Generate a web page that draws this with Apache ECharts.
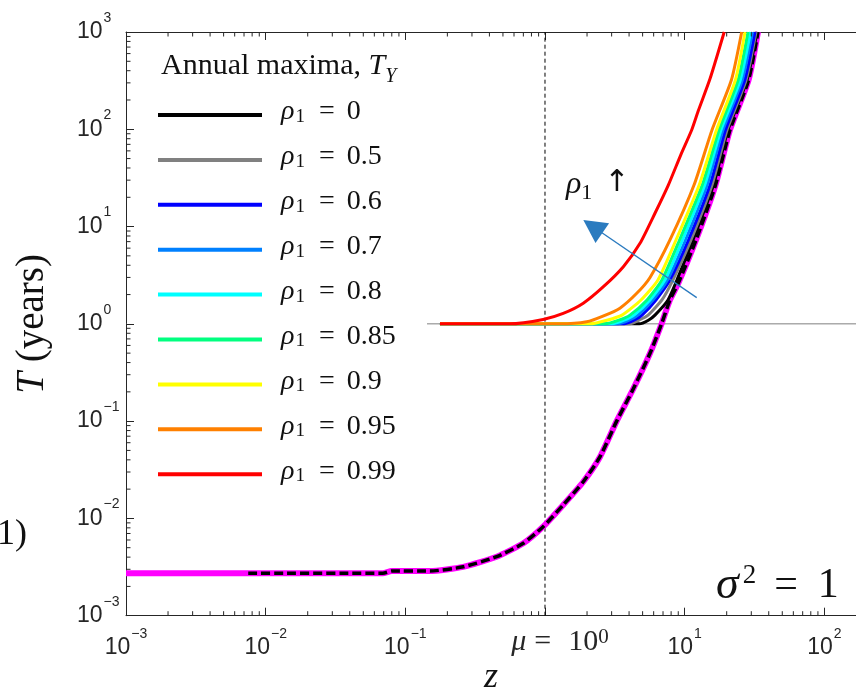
<!DOCTYPE html>
<html>
<head>
<meta charset="utf-8">
<title>T vs z</title>
<script src="https://cdn.jsdelivr.net/npm/echarts@6/dist/echarts.min.js"></script>
<style>
  html, body { margin: 0; padding: 0; background: #fff; }
  #chart { width: 856px; height: 690px; }
</style>
</head>
<body>
<div id="chart"></div>
<script>
// axis ranges
var xMin = 0.001, xMax = 168.6;
var yMin = 0.001, yMax = 1000;
var muValue = 1;        // dashed vertical line, z = mu
var refStart = 0.143;   // thin T = 1 line starts here

var rhoNames  = ['0', '0.5', '0.6', '0.7', '0.8', '0.85', '0.9', '0.95', '0.99'];
var rhoColors = ['#000000', '#808080', '#0000ff', '#0080ff', '#00ffff', '#00ff80', '#ffff00', '#ff8000', '#ff0000'];

// annual maxima curves, [z, T]
var rho000 = [[0.177,1],[4.75,1],[5.5,1.09],[6.13,1.23],[7.6,1.76],[8.81,2.83],[11.47,7.28],[16.09,26.7],[20.43,98.4],[28.0,321],[32.96,1000]];
var rho050 = [[0.177,1],[4.06,1],[4.7,1.09],[5.47,1.23],[6.88,1.76],[8.25,2.83],[11.1,7.28],[15.7,26.7],[20.1,98.4],[27.54,321],[32.43,1000]];
var rho060 = [[0.177,1],[3.68,1],[4.34,1.09],[4.95,1.23],[6.23,1.76],[7.85,2.83],[10.65,7.28],[15.19,26.7],[19.61,98.4],[26.96,321],[31.89,1000]];
var rho070 = [[0.177,1],[3.33,1],[4.0,1.09],[4.63,1.23],[5.93,1.76],[7.54,2.83],[10.14,7.28],[14.5,26.7],[18.81,98.4],[25.87,321],[30.61,1000]];
var rho080 = [[0.177,1],[3.02,1],[3.68,1.09],[4.34,1.23],[5.65,1.76],[7.23,2.83],[9.65,7.28],[13.92,26.7],[18.2,98.4],[25.03,321],[29.61,1000]];
var rho085 = [[0.177,1],[2.69,1],[3.38,1.09],[4.06,1.23],[5.38,1.76],[6.88,2.83],[9.19,7.28],[13.36,26.7],[17.62,98.4],[24.14,321],[28.42,1000]];
var rho090 = [[0.177,1],[2.1,1],[2.78,1.09],[3.56,1.23],[4.87,1.76],[6.44,2.83],[8.67,7.28],[12.71,26.7],[16.9,98.4],[23.09,321],[27.04,1000]];
var rho095 = [[0.177,1],[1.28,1],[1.99,1.05],[2.6,1.2],[3.44,1.45],[4.54,2.06],[5.65,3.0],[7.85,7.28],[11.67,26.7],[15.7,98.4],[21.61,321],[25.61,1000]];
var rho099 = [[0.177,1],[0.56,1],[0.97,1.11],[1.35,1.28],[1.88,1.63],[2.62,2.41],[3.64,3.87],[4.79,6.73],[6.13,13.7],[7.64,26.7],[9.4,55],[11.23,98.4],[12.52,155],[15.19,330],[19.2,1000]];
var rhoData = [rho000, rho050, rho060, rho070, rho080, rho085, rho090, rho095, rho099];

// daily curve (magenta) and its dashed overlay
var dailyT   = [[0.001,0.00273],[0.069,0.00273],[0.08,0.00288],[0.15,0.00288],[0.26,0.00318],[0.451,0.00404],[0.7,0.00555],[0.97,0.00822],[1.35,0.01374],[1.88,0.0238],[2.48,0.0431],[3.26,0.1],[4.29,0.215],[5.65,0.498],[6.85,1.01],[7.85,1.76],[9.0,2.61],[12.06,7.28],[16.63,26.7],[21.12,98.4],[28.7,321],[33.5,1000]];
var dailySim = [[0.0075,0.00273],[0.069,0.00273],[0.08,0.00288],[0.15,0.00288],[0.26,0.00318],[0.451,0.00404],[0.7,0.00555],[0.97,0.00822],[1.35,0.01374],[1.88,0.0238],[2.48,0.0431],[3.26,0.1],[4.29,0.215],[5.65,0.498],[6.85,1.01],[7.85,1.76],[9.0,2.61],[12.06,7.28],[16.63,26.7],[21.12,98.4],[28.7,321],[33.5,1000]];

// rho increase arrow
var arrowTail = [12.2, 1.86];
var arrowHead = [2.2, 10];

var axisColor = '#262626';
var sans = 'Liberation Sans';
var serif = 'Liberation Serif';

function expOf(v) {
    var e = Math.log10(v);
    var r = Math.round(e);
    return Math.abs(e - r) < 1e-6 ? r : null;
}
function tickLabel(v) {
    var e = expOf(v);
    if (e === null) return '';
    var s = e < 0 ? '\u2212' + (-e) : String(e);
    return '{b|10}{p|' + s + '}';
}
function minorValues(lo, hi) {
    var out = [];
    for (var e = Math.floor(Math.log10(lo)); e <= Math.ceil(Math.log10(hi)); e++) {
        for (var k = 2; k <= 9; k++) {
            var v = k * Math.pow(10, e);
            if (v > lo && v < hi) out.push(v);
        }
    }
    return out;
}

var tickRich = {
    b:  { fontFamily: sans, fontSize: 23, lineHeight: 46, color: axisColor },
    p:  { fontFamily: sans, fontSize: 14, lineHeight: 14, padding: [0, 0, 28, 1], color: axisColor },
    mu: { fontFamily: serif, fontStyle: 'italic', fontSize: 30, lineHeight: 34, padding: [0, 0, 0, 30], color: axisColor },
    eq: { fontFamily: serif, fontSize: 30, padding: [0, 17, 0, 8], color: axisColor },
    ten:{ fontFamily: serif, fontSize: 30, color: axisColor },
    mp: { fontFamily: serif, fontSize: 21, lineHeight: 21, padding: [0, 0, 9, 0], color: axisColor }
};
var yTickRich = {
    b:  { fontFamily: sans, fontSize: 23, lineHeight: 23, color: axisColor },
    p:  tickRich.p
};

var chart = echarts.init(document.getElementById('chart'));

var series = [];
series.push({
    name: 'ref', type: 'line', data: [[refStart, 1], [xMax, 1]],
    showSymbol: false, silent: true, z: 1,
    lineStyle: { color: '#7f7f7f', width: 1 }
});
series.push({
    name: 'mu', type: 'line', data: [[muValue, yMin], [muValue, yMax]],
    showSymbol: false, silent: true, z: 1,
    lineStyle: { color: '#000', width: 1, type: [4, 3] }
});
series.push({
    name: 'daily', type: 'line', data: dailyT, showSymbol: false, silent: true, smooth: 0.2, z: 2,
    lineStyle: { color: '#ff00ff', width: 6 }, itemStyle: { color: '#ff00ff' }
});
series.push({
    name: 'dailySim', type: 'line', data: dailySim, showSymbol: false, silent: true, smooth: 0.2, z: 2,
    lineStyle: { color: '#000', width: 3.5, type: [9, 4] }, itemStyle: { color: '#000' }
});
for (var i = 0; i < rhoNames.length; i++) {
    series.push({
        name: rhoNames[i], type: 'line', data: rhoData[i], showSymbol: false, smooth: 0.2, z: 3,
        lineStyle: { color: rhoColors[i], width: 3 }, itemStyle: { color: rhoColors[i] }
    });
}
series.push({
    name: 'arrow', type: 'line', data: [arrowTail], showSymbol: false, silent: true, z: 5,
    lineStyle: { width: 0 },
    markLine: {
        silent: true, animation: false,
        symbol: ['none', 'triangle'], symbolSize: [24, 23],
        label: { show: false },
        lineStyle: { color: '#2b7bbf', width: 1.3, type: 'solid' },
        data: [[{ coord: arrowTail }, { coord: arrowHead }]]
    }
});
// minor ticks of the log axes, placed through the axes
series.push({
    type: 'custom', silent: true, clip: false, z: 6,
    data: minorValues(xMin, xMax).map(function (v) { return [v, yMin]; }),
    renderItem: function (params, api) {
        var b = api.coord([api.value(0), yMin]);
        var t = api.coord([api.value(0), yMax]);
        return { type: 'group', children: [
            { type: 'line', shape: { x1: b[0], y1: b[1], x2: b[0], y2: b[1] - 4.5 }, style: { stroke: axisColor, lineWidth: 1 } },
            { type: 'line', shape: { x1: t[0], y1: t[1], x2: t[0], y2: t[1] + 4.5 }, style: { stroke: axisColor, lineWidth: 1 } }
        ] };
    }
});
series.push({
    type: 'custom', silent: true, clip: false, z: 6,
    data: minorValues(yMin, yMax).map(function (v) { return [xMin, v]; }),
    renderItem: function (params, api) {
        var l = api.coord([xMin, api.value(1)]);
        return { type: 'line', shape: { x1: l[0], y1: l[1], x2: l[0] + 4.5, y2: l[1] }, style: { stroke: axisColor, lineWidth: 1 } };
    }
});

var option = {
    animation: false,
    backgroundColor: '#fff',
    grid: { left: 126, top: 32, right: 0, bottom: 74.3, containLabel: false, outerBoundsMode: 'none' },
    title: {
        left: 161, top: 52, padding: 0,
        text: '{a|Annual maxima, }{t|T}{y|Y}',
        textStyle: { fontWeight: 'normal', rich: {
            a: { fontFamily: serif, fontWeight: 'normal', fontSize: 30, lineHeight: 29, color: '#111' },
            t: { fontFamily: serif, fontWeight: 'normal', fontStyle: 'italic', fontSize: 30, lineHeight: 29, color: '#111' },
            y: { fontFamily: serif, fontWeight: 'normal', fontStyle: 'italic', fontSize: 20, lineHeight: 20, padding: [21, 0, 0, 0], color: '#111' }
        } }
    },
    legend: {
        data: rhoNames, orient: 'vertical', left: 158, top: 98, padding: 0,
        itemWidth: 104, itemHeight: 4, itemGap: 10.9, icon: 'rect', selectedMode: false,
        itemStyle: { borderWidth: 0 },
        formatter: function (n) { return '{r|\u03c1}{s|1}{e|=}{v|' + n + '}'; },
        textStyle: { rich: {
            r: { fontFamily: serif, fontStyle: 'italic', fontSize: 28, lineHeight: 30, padding: [0, 0, 6, 14], color: '#111' },
            s: { fontFamily: serif, fontSize: 19, lineHeight: 19, padding: [4, 0, 0, 1], color: '#111' },
            e: { fontFamily: serif, fontSize: 28, lineHeight: 30, padding: [0, 12, 6, 14], color: '#111' },
            v: { fontFamily: serif, fontSize: 28, lineHeight: 30, padding: [0, 0, 6, 0], color: '#111' }
        } }
    },
    xAxis: [{
        type: 'log', min: xMin, max: xMax, position: 'bottom',
        axisLine: { show: true, lineStyle: { color: axisColor, width: 1 } },
        axisTick: { show: true, inside: true, length: 8, lineStyle: { color: axisColor } },
        splitLine: { show: false },
        axisLabel: {
            margin: 9,
            formatter: function (v) {
                if (expOf(v) === 0) return '{mu|\u03bc}{eq|=}{ten|10}{mp|0}';
                return tickLabel(v);
            },
            rich: tickRich
        },
        name: 'z', nameLocation: 'middle', nameGap: 44, nameMoveOverlap: false,
        nameTextStyle: { fontFamily: serif, fontStyle: 'italic', fontSize: 36, color: '#111' }
    }, {
        type: 'log', min: xMin, max: xMax, position: 'top',
        axisLine: { show: true, lineStyle: { color: axisColor, width: 1 } },
        axisTick: { show: true, inside: true, length: 8, lineStyle: { color: axisColor } },
        splitLine: { show: false },
        axisLabel: { show: false }
    }],
    yAxis: {
        type: 'log', min: yMin, max: yMax,
        axisLine: { show: true, lineStyle: { color: axisColor, width: 1 } },
        axisTick: { show: true, inside: true, length: 8, lineStyle: { color: axisColor } },
        splitLine: { show: false },
        axisLabel: { margin: 49, align: 'left', formatter: tickLabel, rich: yTickRich },
        name: '{t|T} (years)', nameLocation: 'middle', nameGap: 74, nameMoveOverlap: false,
        nameTextStyle: {
            fontFamily: serif, fontSize: 39, color: '#111',
            rich: { t: { fontFamily: serif, fontStyle: 'italic', fontSize: 39, color: '#111' } }
        }
    },
    graphic: [
        { type: 'text', left: 566, top: 165, silent: true, style: {
            text: '{r|\u03c1}{s|1}{a|\u2191}',
            rich: {
                r: { fontFamily: serif, fontStyle: 'italic', fontSize: 32, lineHeight: 32, fill: '#111' },
                s: { fontFamily: serif, fontSize: 22, lineHeight: 22, padding: [17, 0, 0, 0], fill: '#111' },
                a: { fontFamily: 'DejaVu Sans', fontSize: 30, lineHeight: 30, padding: [0, 0, 2, 12], fill: '#111' }
            }
        } },
        { type: 'text', left: 716, top: 562, silent: true, style: {
            text: '{g|\u03c3}{p|2}{e|=}{v|1}',
            rich: {
                g: { fontFamily: serif, fontStyle: 'italic', fontSize: 46, lineHeight: 44, fill: '#111' },
                p: { fontFamily: serif, fontSize: 27, lineHeight: 27, padding: [0, 0, 20, 4], fill: '#111' },
                e: { fontFamily: serif, fontSize: 42, lineHeight: 44, padding: [0, 20, 0, 18], fill: '#111' },
                v: { fontFamily: serif, fontSize: 42, lineHeight: 44, fill: '#111' }
            }
        } },
        { type: 'text', left: -3, top: 517, silent: true, style: {
            text: '1)', fontFamily: serif, fontSize: 36, fill: '#111'
        } }
    ],
    series: series
};

chart.setOption(option);
window.onresize = chart.resize;
</script>
</body>
</html>
